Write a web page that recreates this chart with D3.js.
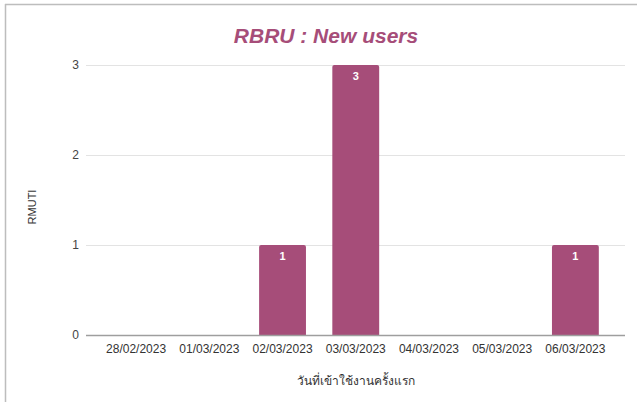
<!DOCTYPE html>
<html>
<head>
<meta charset="utf-8">
<script src="https://cdn.jsdelivr.net/npm/d3@7"></script>
<style>
  body { margin: 0; background: #fff; }
  text { font-family: "Liberation Sans", Arial, "Noto Sans", sans-serif; }
</style>
</head>
<body>
<div id="chart"></div>
<script>
const dates = ['28/02/2023', '01/03/2023', '02/03/2023', '03/03/2023', '04/03/2023', '05/03/2023', '06/03/2023'];
const users = [0, 0, 1, 3, 0, 0, 1];
const yTicks = [0, 1, 2, 3];

const W = 637;
const H = 402;
const barColor = '#a64d79';

const svg = d3
  .select('#chart')
  .append('svg')
  .attr('width', W)
  .attr('height', H);

// frame lines (top and left only)
svg.append('line').attr('x1', 5).attr('x2', W).attr('y1', 4.5).attr('y2', 4.5)
  .attr('stroke', '#bdbdbd').attr('stroke-width', 1.5);
svg.append('line').attr('x1', 5.5).attr('x2', 5.5).attr('y1', 4).attr('y2', H)
  .attr('stroke', '#bdbdbd').attr('stroke-width', 1.5);

// scales
const x = d3.scaleBand().domain(dates).range([99.5, 612]).paddingInner(0.36).paddingOuter(0.18);
const y = d3.scaleLinear().domain([0, 3]).range([335, 65]);
const gridLeft = 86;
const gridRight = 625;

// gridlines
svg
  .append('g')
  .selectAll('line')
  .data(yTicks.filter((t) => t > 0))
  .join('line')
  .attr('x1', gridLeft)
  .attr('x2', gridRight)
  .attr('y1', (d) => y(d) + 0.5)
  .attr('y2', (d) => y(d) + 0.5)
  .attr('stroke', '#e3e3e3');

// y labels
svg
  .append('g')
  .selectAll('text')
  .data(yTicks)
  .join('text')
  .attr('x', 79)
  .attr('y', (d) => y(d))
  .attr('dy', '0.35em')
  .attr('text-anchor', 'end')
  .style('font-size', '12px')
  .style('fill', '#444')
  .text((d) => d);

// bars
const rounded = (x0, y0, w, h, r) =>
  `M${x0},${y0 + h}V${y0 + r}Q${x0},${y0} ${x0 + r},${y0}H${x0 + w - r}Q${x0 + w},${y0} ${x0 + w},${y0 + r}V${y0 + h}Z`;

const data = dates.map((d, i) => ({ date: d, value: users[i] }));

svg
  .append('g')
  .selectAll('path')
  .data(data.filter((d) => d.value > 0))
  .join('path')
  .attr('d', (d) => rounded(x(d.date), y(d.value), x.bandwidth(), y(0) - y(d.value), 2))
  .attr('fill', barColor);

// value labels
svg
  .append('g')
  .selectAll('text')
  .data(data.filter((d) => d.value > 0))
  .join('text')
  .attr('x', (d) => x(d.date) + x.bandwidth() / 2)
  .attr('y', (d) => y(d.value) + 15)
  .attr('text-anchor', 'middle')
  .style('font-size', '11px')
  .style('font-weight', 'bold')
  .style('fill', '#fff')
  .text((d) => d.value);

// baseline
svg.append('line').attr('x1', gridLeft).attr('x2', gridRight)
  .attr('y1', y(0) + 0.5).attr('y2', y(0) + 0.5)
  .attr('stroke', '#9e9e9e').attr('stroke-width', 1.3);

// x axis labels
svg
  .append('g')
  .selectAll('text')
  .data(dates)
  .join('text')
  .attr('x', (d) => x(d) + x.bandwidth() / 2)
  .attr('y', 353)
  .attr('text-anchor', 'middle')
  .style('font-size', '12px')
  .style('fill', '#333')
  .text((d) => d);

// axis titles
svg.append('text')
  .attr('x', (gridLeft + gridRight) / 2)
  .attr('y', 385)
  .attr('text-anchor', 'middle')
  .style('font-size', '12px')
  .style('fill', '#333')
  .text('วันที่เข้าใช้งานครั้งแรก');

svg.append('text')
  .attr('transform', 'translate(36, 207) rotate(-90)')
  .attr('text-anchor', 'middle')
  .style('font-size', '11px')
  .style('fill', '#333')
  .text('RMUTI');

// title
svg.append('text')
  .attr('x', 326)
  .attr('y', 43)
  .attr('text-anchor', 'middle')
  .style('font-size', '21px')
  .style('font-weight', 'bold')
  .style('font-style', 'italic')
  .style('fill', barColor)
  .text('RBRU : New users');
</script>
</body>
</html>
